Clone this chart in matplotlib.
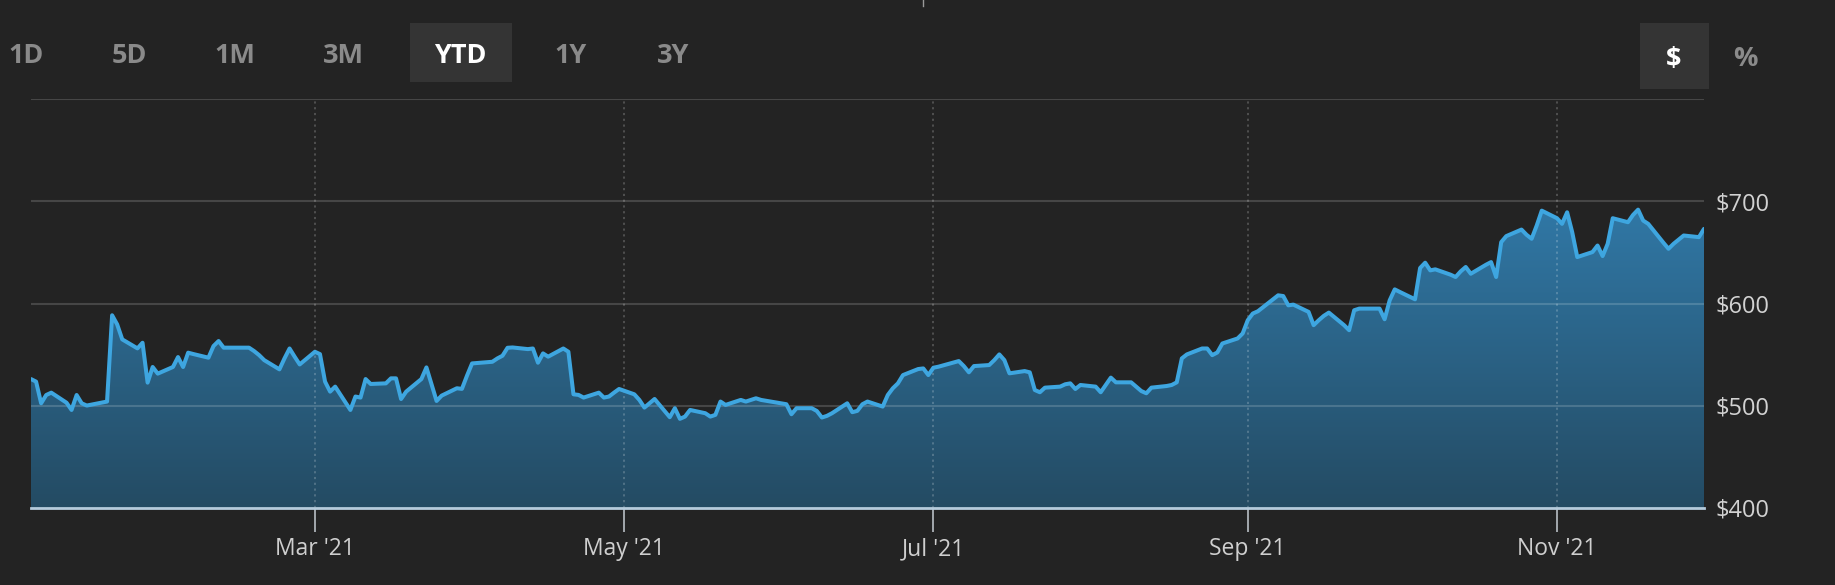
import numpy as np
import pandas as pd
import matplotlib
matplotlib.use("Agg")
import matplotlib.pyplot as plt
import matplotlib.dates as mdates
from matplotlib.patches import Rectangle, PathPatch
from matplotlib.path import Path
from matplotlib.colors import LinearSegmentedColormap
from matplotlib.lines import Line2D

# ---------------- data ----------------
dates = [
    "2021-01-04", "2021-01-05", "2021-01-06", "2021-01-07", "2021-01-08",
    "2021-01-11", "2021-01-12", "2021-01-13", "2021-01-14", "2021-01-15",
    "2021-01-19", "2021-01-20", "2021-01-21", "2021-01-22", "2021-01-25",
    "2021-01-26", "2021-01-27", "2021-01-28", "2021-01-29", "2021-02-01",
    "2021-02-02", "2021-02-03", "2021-02-04", "2021-02-05", "2021-02-08",
    "2021-02-09", "2021-02-10", "2021-02-11", "2021-02-12", "2021-02-16",
    "2021-02-17", "2021-02-18", "2021-02-19", "2021-02-22", "2021-02-23",
    "2021-02-24", "2021-02-25", "2021-02-26", "2021-03-01", "2021-03-02",
    "2021-03-03", "2021-03-04", "2021-03-05", "2021-03-08", "2021-03-09",
    "2021-03-10", "2021-03-11", "2021-03-12", "2021-03-15", "2021-03-16",
    "2021-03-17", "2021-03-18", "2021-03-19", "2021-03-22", "2021-03-23",
    "2021-03-24", "2021-03-25", "2021-03-26", "2021-03-29", "2021-03-30",
    "2021-03-31", "2021-04-01", "2021-04-05", "2021-04-06", "2021-04-07",
    "2021-04-08", "2021-04-09", "2021-04-12", "2021-04-13", "2021-04-14",
    "2021-04-15", "2021-04-16", "2021-04-19", "2021-04-20", "2021-04-21",
    "2021-04-22", "2021-04-23", "2021-04-26", "2021-04-27", "2021-04-28",
    "2021-04-29", "2021-04-30", "2021-05-03", "2021-05-04", "2021-05-05",
    "2021-05-06", "2021-05-07", "2021-05-10", "2021-05-11", "2021-05-12",
    "2021-05-13", "2021-05-14", "2021-05-17", "2021-05-18", "2021-05-19",
    "2021-05-20", "2021-05-21", "2021-05-24", "2021-05-25", "2021-05-26",
    "2021-05-27", "2021-05-28", "2021-06-01", "2021-06-02", "2021-06-03",
    "2021-06-04", "2021-06-07", "2021-06-08", "2021-06-09", "2021-06-10",
    "2021-06-11", "2021-06-14", "2021-06-15", "2021-06-16", "2021-06-17",
    "2021-06-18", "2021-06-21", "2021-06-22", "2021-06-23", "2021-06-24",
    "2021-06-25", "2021-06-28", "2021-06-29", "2021-06-30", "2021-07-01",
    "2021-07-02", "2021-07-06", "2021-07-07", "2021-07-08", "2021-07-09",
    "2021-07-12", "2021-07-13", "2021-07-14", "2021-07-15", "2021-07-16",
    "2021-07-19", "2021-07-20", "2021-07-21", "2021-07-22", "2021-07-23",
    "2021-07-26", "2021-07-27", "2021-07-28", "2021-07-29", "2021-07-30",
    "2021-08-02", "2021-08-03", "2021-08-04", "2021-08-05", "2021-08-06",
    "2021-08-09", "2021-08-10", "2021-08-11", "2021-08-12", "2021-08-13",
    "2021-08-16", "2021-08-17", "2021-08-18", "2021-08-19", "2021-08-20",
    "2021-08-23", "2021-08-24", "2021-08-25", "2021-08-26", "2021-08-27",
    "2021-08-30", "2021-08-31", "2021-09-01", "2021-09-02", "2021-09-03",
    "2021-09-07", "2021-09-08", "2021-09-09", "2021-09-10", "2021-09-13",
    "2021-09-14", "2021-09-15", "2021-09-16", "2021-09-17", "2021-09-20",
    "2021-09-21", "2021-09-22", "2021-09-23", "2021-09-24", "2021-09-27",
    "2021-09-28", "2021-09-29", "2021-09-30", "2021-10-01", "2021-10-04",
    "2021-10-05", "2021-10-06", "2021-10-07", "2021-10-08", "2021-10-11",
    "2021-10-12", "2021-10-13", "2021-10-14", "2021-10-15", "2021-10-18",
    "2021-10-19", "2021-10-20", "2021-10-21", "2021-10-22", "2021-10-25",
    "2021-10-26", "2021-10-27", "2021-10-28", "2021-10-29", "2021-11-01",
    "2021-11-02", "2021-11-03", "2021-11-04", "2021-11-05", "2021-11-08",
    "2021-11-09", "2021-11-10", "2021-11-11", "2021-11-12", "2021-11-15",
    "2021-11-16", "2021-11-17", "2021-11-18", "2021-11-19", "2021-11-22",
    "2021-11-23", "2021-11-24", "2021-11-26", "2021-11-29", "2021-11-30",
]
prices = [
    526.1, 523.6, 502.4, 510.5, 512.8,
    503.0, 495.9, 510.5, 502.4, 500.2,
    504.1, 588.5, 579.5, 564.9, 556.1,
    561.6, 522.6, 537.9, 531.4, 537.9,
    547.6, 537.9, 551.9, 550.6, 547.0,
    558.4, 563.3, 556.8, 556.8, 556.8,
    553.5, 549.5, 544.6, 535.6, 546.3,
    556.0, 548.0, 540.4, 552.8, 550.5,
    523.6, 513.8, 518.7, 495.9, 509.0,
    508.0, 526.1, 521.3, 521.9, 526.8,
    526.8, 506.6, 513.8, 526.1, 537.5,
    521.0, 504.7, 509.9, 517.1, 516.5,
    529.4, 541.4, 543.0, 546.3, 548.9,
    556.7, 557.0, 555.4, 556.0, 542.1,
    551.2, 548.0, 556.0, 552.8, 511.2,
    510.6, 508.0, 512.8, 508.0, 509.0,
    512.8, 516.4, 511.2, 505.7, 498.2,
    502.4, 506.6, 488.8, 497.6, 487.2,
    489.4, 495.9, 492.7, 489.4, 491.1,
    504.1, 500.8, 505.7, 504.1, 505.7,
    507.3, 505.7, 502.4, 501.5, 491.7,
    497.6, 497.6, 494.9, 488.5, 490.1,
    492.7, 502.4, 493.7, 495.0, 501.5,
    504.1, 499.2, 510.5, 517.1, 521.9,
    530.0, 535.9, 536.5, 530.0, 537.2,
    538.2, 543.7, 538.8, 532.7, 538.8,
    539.8, 544.6, 550.2, 544.6, 531.7,
    533.9, 532.7, 515.4, 513.2, 517.7,
    518.7, 521.0, 521.9, 516.4, 520.3,
    518.7, 513.2, 520.3, 527.5, 522.9,
    522.9, 518.7, 514.4, 512.2, 517.7,
    519.3, 520.3, 522.9, 546.3, 550.2,
    556.0, 556.0, 549.5, 552.1, 560.9,
    565.8, 570.7, 583.6, 590.2, 592.4,
    608.0, 607.3, 598.2, 598.9, 591.8,
    578.8, 583.6, 587.9, 591.1, 578.8,
    573.9, 593.4, 595.0, 595.0, 595.0,
    584.6, 603.1, 613.8, 611.3, 604.1,
    634.7, 639.9, 632.4, 633.4, 628.2,
    625.9, 631.4, 635.7, 629.1, 637.9,
    640.5, 625.9, 660.0, 665.9, 672.3,
    667.2, 663.3, 676.2, 690.8, 683.4,
    677.9, 689.2, 669.8, 645.4, 650.3,
    656.7, 646.4, 658.4, 683.4, 679.5,
    686.6, 691.8, 681.1, 677.9, 659.4,
    653.5, 658.4, 666.5, 664.9, 673.0,
]
y_ticks = [400, 500, 600, 700]
y_tick_labels = ["$400", "$500", "$600", "$700"]
grid_levels = [500, 600, 700, 800]
x_tick_dates = ["2021-03-01", "2021-05-01", "2021-07-01", "2021-09-01", "2021-11-01"]
x_tick_labels = ["Mar '21", "May '21", "Jul '21", "Sep '21", "Nov '21"]
range_buttons = ["1D", "5D", "1M", "3M", "YTD", "1Y", "3Y"]
selected_range = "YTD"
unit_buttons = ["$", "%"]
selected_unit = "$"

# ---------------- style ----------------
plt.rcParams['font.family'] = ['Open Sans', 'DejaVu Sans']
BG = '#232323'
W, H = 1835, 585

fig = plt.figure(figsize=(W / 100, H / 100), dpi=100, facecolor=BG)


def fy(py):
    return (H - py) / H


def fx(px):
    return px / W


ax = fig.add_axes([fx(31), fy(508), fx(1704) - fx(31), fy(99) - fy(508)])
ax.set_facecolor(BG)
for s in ax.spines.values():
    s.set_visible(False)

x = mdates.date2num(pd.to_datetime(dates))
y = np.array(prices)

# gradient area fill
verts = np.column_stack([np.r_[x[0], x, x[-1]], np.r_[400, y, 400]])
clip = PathPatch(Path(verts), facecolor='none', edgecolor='none')
ax.add_patch(clip)
cmap = LinearSegmentedColormap.from_list('fill', ['#244b63', '#3588be'])
grad = np.linspace(0, 1, 256).reshape(-1, 1)
im = ax.imshow(grad, extent=[x[0], x[-1], 400, 800], origin='lower',
               aspect='auto', cmap=cmap, zorder=1, interpolation='bilinear')
im.set_clip_path(clip)

# horizontal grid
for g in grid_levels:
    ax.axhline(g, color='white', alpha=0.16, lw=1.5, zorder=2)

# vertical dotted grid at month ticks
xt = mdates.date2num(pd.to_datetime(x_tick_dates))
for v in xt:
    ax.axvline(v, color='white', alpha=0.22, lw=1.3, linestyle=(0, (1.2, 2.0)), zorder=2)

# price line
ax.plot(x, y, color='#3ea6e0', lw=2.9, solid_joinstyle='round',
        solid_capstyle='round', zorder=4)

# baseline
ax.axhline(400, color='#b5cbdc', lw=2.0, zorder=5, clip_on=False)

ax.set_xlim(x[0], x[-1])
ax.set_ylim(400, 800)

ax.set_xticks(xt)
ax.set_xticklabels(x_tick_labels)
ax.tick_params(axis='x', length=17, width=1.1, color='#c5ccd3', pad=4,
               labelsize=16.5, labelcolor='#cfcfcf')
ax.yaxis.tick_right()
ax.set_yticks(y_ticks)
ax.set_yticklabels(y_tick_labels)
ax.tick_params(axis='y', length=0, pad=8.5, labelsize=17, labelcolor='#d2d2d2')

# ---------------- top controls ----------------
btn_x = [26, 129, 235, 343, 460, 571, 673]
fig.patches.append(Rectangle((fx(410), fy(82)), fx(512) - fx(410), fy(23) - fy(82),
                             transform=fig.transFigure, facecolor='#343434',
                             edgecolor='none', zorder=0))
for lbl, bx in zip(range_buttons, btn_x):
    sel = lbl == selected_range
    fig.text(fx(bx), fy(63), lbl, ha='center', va='baseline', fontsize=19.5,
             fontweight='bold', color='white' if sel else '#8a8a8a')

fig.patches.append(Rectangle((fx(1640), fy(89)), fx(1709) - fx(1640), fy(23) - fy(89),
                             transform=fig.transFigure, facecolor='#343434',
                             edgecolor='none', zorder=0))
for lbl, bx in zip(unit_buttons, [1674, 1745]):
    sel = lbl == selected_unit
    fig.text(fx(bx), fy(66), lbl, ha='center', va='baseline', fontsize=19.5,
             fontweight='bold', color='white' if sel else '#8a8a8a')

# tiny marker at the top edge
fig.add_artist(Line2D([fx(923), fx(923)], [fy(0), fy(6)], transform=fig.transFigure,
                      color='#9a9a9a', lw=1.0))

fig.savefig('out.png', dpi=100, facecolor=BG)
